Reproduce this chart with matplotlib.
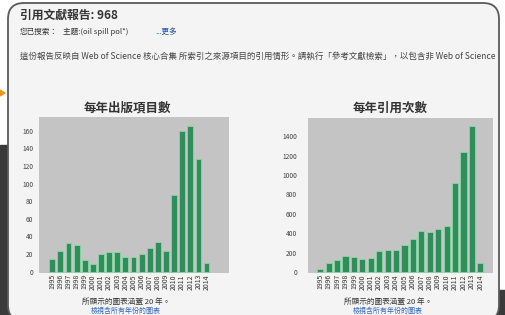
import numpy as np
import matplotlib
matplotlib.use("Agg")
import matplotlib.pyplot as plt
from matplotlib.patches import FancyBboxPatch, Rectangle, Polygon

plt.rcParams['font.family'] = ['Noto Sans CJK TC', 'DejaVu Sans']

# ---------- DATA ----------
years = [str(y) for y in range(1995, 2015)]
items_per_year = [14, 24, 33, 30, 13, 9, 20, 23, 23, 17, 17, 20, 27, 34, 24, 87, 160, 165, 128, 10]
citations_per_year = [34, 93, 120, 160, 155, 138, 148, 217, 230, 227, 279, 337, 423, 413, 444, 471,
                      922, 1235, 1507, 96]
items_ticks = list(range(0, 161, 20))
cites_ticks = list(range(0, 1401, 200))

report_title = "引用文獻報告: 968"
search_label = "您已搜索："
search_query = "主題:(oil spill pol*)"
more_link = "...更多"
note_line = ("這份報告反映自 Web of Science 核心合集 所索引之來源項目的引用情形。"
             "請執行「參考文獻檢索」，以包含非 Web of Science")
left_title = "每年出版項目數"
right_title = "每年引用次數"
footer_text = "所顯示的圖表涵蓋 20 年。"
footer_link = "檢視含所有年份的圖表"

PANEL = "#f4f4f4"
PLOT_BG = "#c4c4c4"
BAR = "#2f8f5b"
BAR_EDGE = "#8fd3a8"
DARK = "#3a3a3a"
W, H = 505, 315

fig = plt.figure(figsize=(W / 100, H / 100), dpi=100, facecolor="white")

# background layer in pixel coordinates
bg = fig.add_axes([0, 0, 1, 1], zorder=0)
bg.set_xlim(0, W)
bg.set_ylim(H, 0)
bg.axis("off")
bg.add_patch(Rectangle((0, 145), 9, H - 145, color=DARK))
bg.add_patch(Rectangle((0, 306), 30, 9, color=DARK))
bg.add_patch(Rectangle((480, 290), 25, 25, color=DARK))
bg.add_patch(Polygon([[0, 90], [5, 93], [0, 96]], color="#f0961e"))
bg.add_patch(FancyBboxPatch((8, 3), 491, 318, boxstyle="round,pad=0,rounding_size=16",
                            facecolor=PANEL, edgecolor="#5a5a5a", linewidth=1.3))

bg.text(20, 15, report_title, fontsize=8.5, fontweight="bold", color="#333333", va="center")
bg.text(20, 32, search_label, fontsize=5.5, color="#333333", va="center")
bg.text(63, 32, search_query, fontsize=5.5, color="#333333", va="center")
bg.text(155, 32, more_link, fontsize=5.5, color="#2255aa", va="center")
bg.text(20, 56, note_line, fontsize=6.1, color="#444444", va="center")

bg.text(127, 108, left_title, fontsize=9, fontweight="bold", color="#333333", ha="center", va="center")
bg.text(390, 108, right_title, fontsize=9, fontweight="bold", color="#333333", ha="center", va="center")
bg.text(126, 302, footer_text, fontsize=5.5, color="#333333", ha="center", va="center")
bg.text(388, 302, footer_text, fontsize=5.5, color="#333333", ha="center", va="center")
bg.text(126, 311, footer_link, fontsize=5, color="#3366bb", ha="center", va="center")
bg.text(388, 311, footer_link, fontsize=5, color="#3366bb", ha="center", va="center")


def bar_chart(rect, values, ticks, ylim, xlim, ypad):
    ax = fig.add_axes(rect, zorder=2)
    ax.set_facecolor(PLOT_BG)
    x = np.arange(len(values))
    ax.bar(x, values, width=0.72, color=BAR, edgecolor=BAR_EDGE, linewidth=0.6)
    ax.set_xlim(*xlim)
    ax.set_ylim(*ylim)
    ax.set_yticks(ticks)
    ax.set_yticklabels([str(v) for v in ticks], fontsize=4.8, color="#444444")
    ax.set_xticks(x)
    ax.set_xticklabels(years, rotation=90, fontsize=5, color="#333333")
    ax.tick_params(axis="y", length=0, pad=ypad)
    ax.tick_params(axis="x", length=0, pad=1)
    for s in ax.spines.values():
        s.set_visible(False)
    return ax


bar_chart([39.3 / W, 1 - 272.7 / H, 190 / W, 155.4 / H], items_per_year,
          items_ticks, (-1, 175), (-1.6, 21.8), 4.3)
bar_chart([308 / W, 1 - 272.7 / H, 185 / W, 154.7 / H], citations_per_year,
          cites_ticks, (-8, 1590), (-1.45, 20.5), 8)

fig.savefig("out.png", dpi=100, facecolor="white")
